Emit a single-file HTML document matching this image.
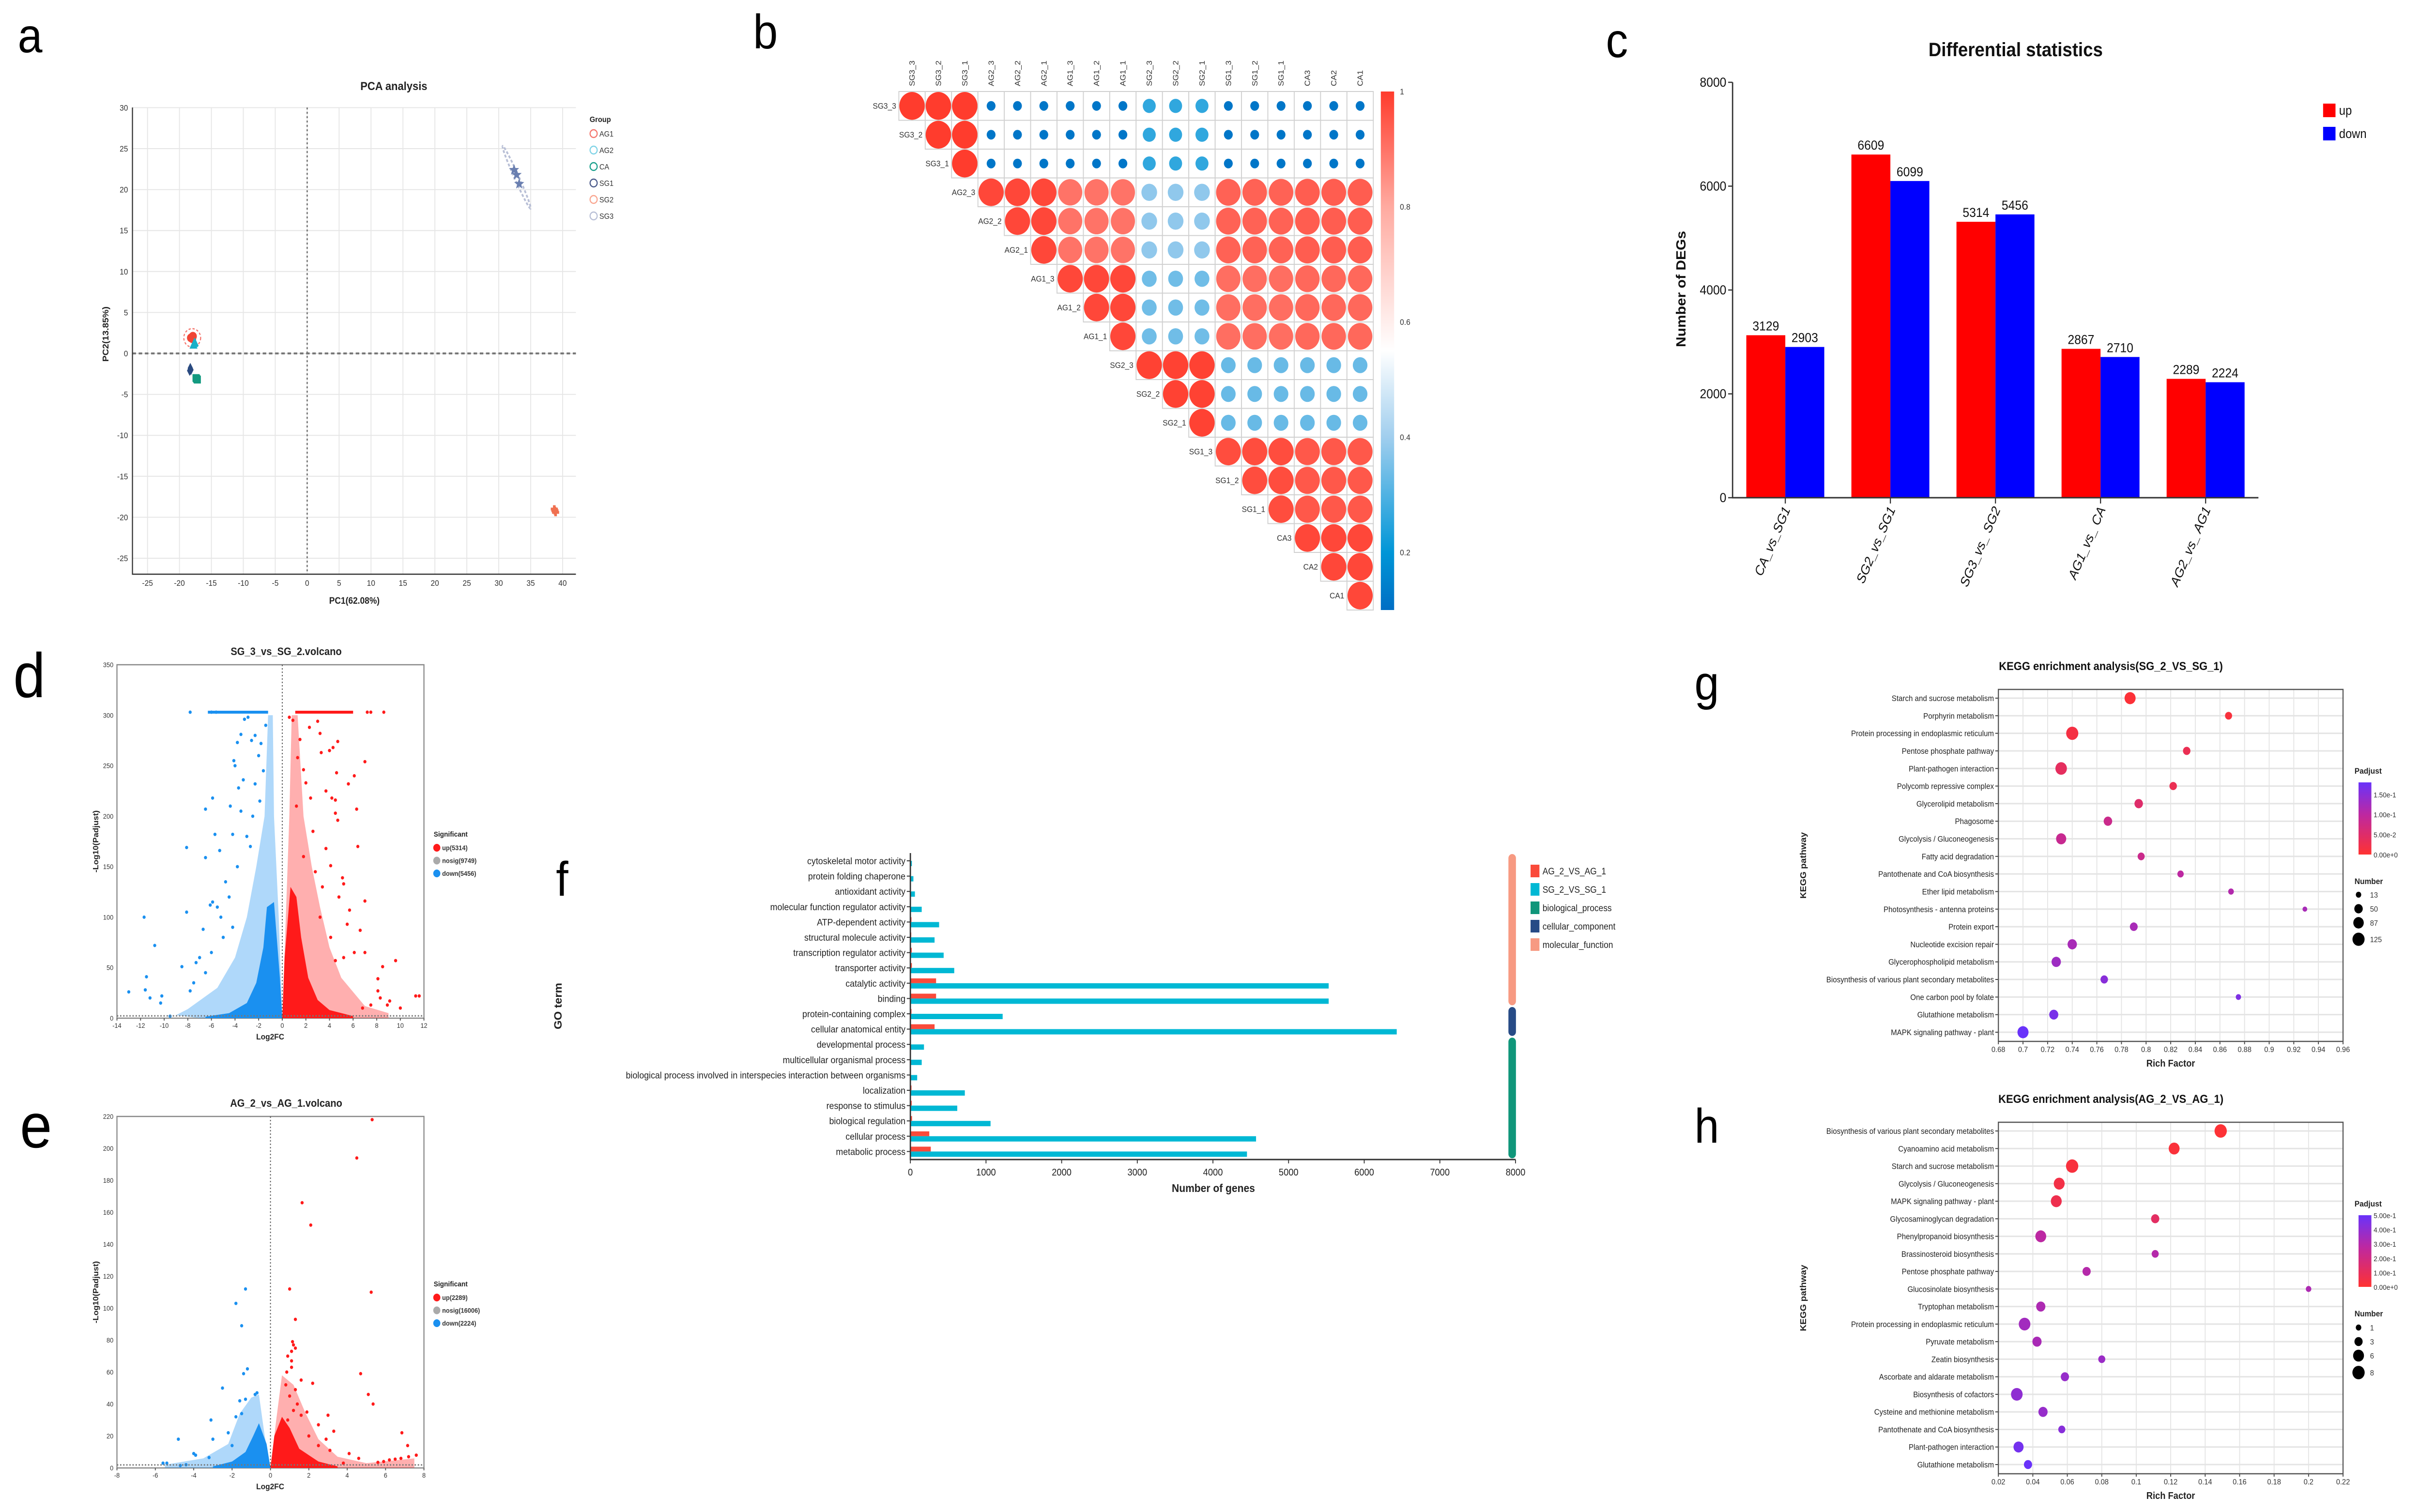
<!DOCTYPE html>
<html><head><meta charset="utf-8"><title>Multi-panel figure</title>
<style>html,body{margin:0;padding:0;background:#fff;overflow:hidden;width:100%;height:100%}svg{display:block;font-family:"Liberation Sans",sans-serif;overflow:hidden;width:100vw;height:100vh}</style>
</head><body>
<svg id="fig" xmlns="http://www.w3.org/2000/svg" viewBox="0 0 5465 3123" preserveAspectRatio="none">
<rect x="0" y="0" width="5465" height="3123" fill="#fff"/>
</svg>
<script>
// ---------- DATA ----------
const pcaGroups=["AG1","AG2","CA","SG1","SG2","SG3"];
const pcaLegendColors=["#f4766e","#7fd3e6","#1aa08c","#4a5a8a","#f9a58f","#b8bfd6"];
const pcaSampleGroup=["AG1","AG1","AG1","AG2","AG2","AG2","CA","CA","CA","SG1","SG1","SG1","SG2","SG2","SG2","SG3","SG3","SG3"];
const pcaX=[-18.2,-17.9,-18.0,-17.8,-17.6,-17.7,-17.4,-17.2,-17.3,-18.3,-18.4,-18.2,38.7,38.9,38.8,32.4,32.8,33.2];
const pcaY=[1.9,2.1,1.8,1.0,1.3,1.2,-3.0,-3.2,-3.1,-1.8,-2.1,-2.0,-19.0,-19.4,-19.2,22.4,21.8,20.7];
const corrLabels=["SG3_3","SG3_2","SG3_1","AG2_3","AG2_2","AG2_1","AG1_3","AG1_2","AG1_1","SG2_3","SG2_2","SG2_1","SG1_3","SG1_2","SG1_1","CA3","CA2","CA1"];
const corrGroupOf=[0,0,0,1,1,1,2,2,2,3,3,3,4,4,4,5,5,5];
const corrGroupMatrix=[
 [1.00,0.12,0.12,0.26,0.12,0.12],
 [0.12,0.98,0.90,0.38,0.93,0.94],
 [0.12,0.90,0.98,0.34,0.91,0.92],
 [0.26,0.38,0.34,0.99,0.33,0.33],
 [0.12,0.93,0.91,0.33,0.97,0.95],
 [0.12,0.94,0.92,0.33,0.95,0.98]];
const corrTicks=[1,0.8,0.6,0.4,0.2];
const degCategories=["CA_vs_SG1","SG2_vs_SG1","SG3_vs_ SG2","AG1_vs_ CA","AG2_vs_ AG1"];
const degUp=[3129,6609,5314,2867,2289];
const degDown=[2903,6099,5456,2710,2224];
const degTicks=[0,2000,4000,6000,8000];
const volDTicksX=[-14,-12,-10,-8,-6,-4,-2,0,2,4,6,8,10,12];
const volDTicksY=[0,50,100,150,200,250,300,350];
const volDDownX=[-11.7,-10.8,-13,-11.5,-11.6,-11.2,-10.2,-10.3,-9.5,-8.1,-8.1,-8.5,-7.8,-6.5,-6.5,-5.9,-5.7,-5.3,-6.7,-6.1,-5.9,-5.5,-4.4,-4.1,-4,-3.8,-3.5,-3.2,-2.9,-2.6,-2.3,-1.8,-1.4,-3.7,-3.3,-2.3,-3.5,-3.0,-4.2,-4.8,-5.2,-7,-7.3,-6.5,-3.8,-2.7,-2.0,-1.6,-4.5,-6,-7.5,-5,-4.2,-2.5,-1.9,-7.8,-6.0,-5.6];
const volDDownY=[100,72,26,41,28,20,22,15,2,105,169,51,27,207,159,218,182,166,88,112,115,110,210,255,250,273,281,296,298,275,280,272,290,228,236,232,205,180,182,135,100,60,55,45,150,170,260,245,120,65,35,80,90,200,215,303,303,303];
const volDUpX=[0.6,0.9,1.5,2.3,3.0,3.2,3.3,4.3,4.7,4.0,7.0,6.1,5.6,4.6,3.7,4.5,4.2,6.3,4.5,4.7,6.4,5.1,5.2,4.1,3.7,7.0,6.6,5.7,5.5,4.8,9.6,8.5,8.1,8.1,8.3,9.1,11.3,11.6,8.9,7.0,6.1,5.2,4.5,4.1,3.4,2.6,2.0,1.8,2.4,1.3,1.2,1.8,3.2,2.8,6.8,7.5,10,7.2,7.5,8.6];
const volDUpY=[298,295,276,288,294,282,263,268,274,265,254,240,232,243,225,216,218,207,203,196,170,139,133,151,168,116,87,107,93,120,57,51,39,27,20,17,22,22,13,65,65,60,57,80,130,185,233,246,218,258,210,160,100,145,10,13,10,303,303,303];
const volDTopDown=[-6.3,-1.2];
const volDTopUp=[1.1,6.0];
const volDCoreDown=[[0,0],[-0.2,40],[-0.7,115],[-1.3,110],[-1.6,70],[-2.2,35],[-3,15],[-4.5,5],[-6.5,1.5],[-6.5,0]];
const volDHaloDown=[[-0.8,300],[-1.2,300],[-1.5,200],[-2.2,150],[-3,100],[-4,60],[-5.5,30],[-8,9],[-9,3],[-7,0],[0,0],[-0.3,100],[-0.7,200]];
const volDCoreUp=[[0,0],[0.2,60],[0.7,130],[1.2,120],[1.6,80],[2.2,40],[3,18],[4,8],[6,2],[6,0]];
const volDHaloUp=[[0.8,300],[1.3,300],[1.8,200],[2.5,150],[3.2,110],[4,70],[5,40],[7,12],[9,5],[9,0],[0,0],[0.3,100],[0.6,200]];
const volDLegend=["up(5314)","nosig(9749)","down(5456)"];
const volETicksX=[-8,-6,-4,-2,0,2,4,6,8];
const volETicksY=[0,20,40,60,80,100,120,140,160,180,200,220];
const volEDownX=[-1.3,-1.8,-1.5,-1.2,-1.4,-2.5,-3.1,-3.0,-4.8,-4.0,-3.9,-3.2,-5.6,-5.4,-1.6,-1.3,-1.8,-1.5,-0.8,-0.7,-2.2,-2,-4.4,-4.7];
const volEDownY=[112,103,89,62,59,50,30,18,18,9,8,6.5,3,3,42,43,32,34,46,47,22,14,2,1.5];
const volEUpX=[5.3,4.5,1.65,2.1,1.0,5.25,1.3,1.15,1.2,1.3,1.1,0.9,1.1,1.1,0.85,4.7,1.6,2.2,0.8,5.1,5.35,3.0,1.9,1.6,2.5,3.3,6.85,2.0,2.9,7.15,2.5,3.1,4.1,7.6,7.2,6.8,6.5,6.2,5.9,5.6,4.6,3.8,1.3,1.0,1.4,1.2,0.9];
const volEUpY=[218,194,166,152,112,110,93,79,77,75,73,70,67,63,60,59,55,53,52,46,40,33,35,33,27,23,22,20,18,14,14,11,9,8,7,6,5.5,5,4,3.5,6,3,49,45,40,36,30];
const volECoreDown=[[0,0],[-0.2,15],[-0.6,28],[-0.9,20],[-1.3,10],[-2,4],[-3,1],[-3,0]];
const volEHaloDown=[[-0.6,46],[-1,44],[-1.6,34],[-2.2,15],[-3.5,6],[-5.5,2],[-5.5,0],[0,0],[-0.3,20]];
const volECoreUp=[[0,0],[0.2,20],[0.6,32],[1.0,25],[1.5,12],[2.5,4],[3.5,1],[3.5,0]];
const volEHaloUp=[[0.6,58],[1.2,52],[1.8,35],[2.5,18],[3.5,7],[5,3],[7.5,6],[7.5,0],[0,0],[0.3,30]];
const volELegend=["up(2289)","nosig(16006)","down(2224)"];
const goTerms=["cytoskeletal motor activity","protein folding chaperone","antioxidant activity","molecular function regulator activity","ATP-dependent activity","structural molecule activity","transcription regulator activity","transporter activity","catalytic activity","binding","protein-containing complex","cellular anatomical entity","developmental process","multicellular organismal process","biological process involved in interspecies interaction between organisms","localization","response to stimulus","biological regulation","cellular process","metabolic process"];
const goAG=[2,3,5,8,15,12,18,20,340,340,15,320,5,5,3,15,18,22,250,270];
const goSG=[20,40,60,150,380,320,440,580,5530,5530,1220,6430,180,150,90,720,620,1060,4570,4450];
const goTicks=[0,1000,2000,3000,4000,5000,6000,7000,8000];
const goLegend=["AG_2_VS_AG_1","SG_2_VS_SG_1","biological_process","cellular_component","molecular_function"];
const goCategorySpans=[[0,9,"#f79a82","molecular_function"],[10,11,"#274b86","cellular_component"],[12,19,"#10967a","biological_process"]];
const keggGPathways=["Starch and sucrose metabolism","Porphyrin metabolism","Protein processing in endoplasmic reticulum","Pentose phosphate pathway","Plant-pathogen interaction","Polycomb repressive complex","Glycerolipid metabolism","Phagosome","Glycolysis / Gluconeogenesis","Fatty acid degradation","Pantothenate and CoA biosynthesis","Ether lipid metabolism","Photosynthesis - antenna proteins","Protein export","Nucleotide excision repair","Glycerophospholipid metabolism","Biosynthesis of various plant secondary metabolites","One carbon pool by folate","Glutathione metabolism","MAPK signaling pathway - plant"];
const keggGRich=[0.787,0.867,0.740,0.833,0.731,0.822,0.794,0.769,0.731,0.796,0.828,0.869,0.929,0.790,0.740,0.727,0.766,0.875,0.725,0.700];
const keggGNumber=[100,30,125,35,110,35,50,50,80,30,22,15,8,40,65,65,35,12,60,100];
const keggGPadj=[0.005,0.01,0.015,0.03,0.04,0.03,0.05,0.08,0.085,0.08,0.10,0.11,0.12,0.12,0.12,0.13,0.15,0.16,0.165,0.18];
const keggGTicks=[0.68,0.7,0.72,0.74,0.76,0.78,0.8,0.82,0.84,0.86,0.88,0.9,0.92,0.94,0.96];
const keggGColorTicks=[[0.15,"1.50e-1"],[0.10,"1.00e-1"],[0.05,"5.00e-2"],[0,"0.00e+0"]];
const keggGSizeTicks=[13,50,87,125];
const keggHPathways=["Biosynthesis of various plant secondary metabolites","Cyanoamino acid metabolism","Starch and sucrose metabolism","Glycolysis / Gluconeogenesis","MAPK signaling pathway - plant","Glycosaminoglycan degradation","Phenylpropanoid biosynthesis","Brassinosteroid biosynthesis","Pentose phosphate pathway","Glucosinolate biosynthesis","Tryptophan metabolism","Protein processing in endoplasmic reticulum","Pyruvate metabolism","Zeatin biosynthesis","Ascorbate and aldarate metabolism","Biosynthesis of cofactors","Cysteine and methionine metabolism","Pantothenate and CoA biosynthesis","Plant-pathogen interaction","Glutathione metabolism"];
const keggHRich=[0.149,0.122,0.0628,0.0553,0.0536,0.111,0.0446,0.111,0.0712,0.200,0.0446,0.0352,0.0424,0.080,0.0586,0.0307,0.0459,0.0568,0.0317,0.0372];
const keggHNumber=[8,6,8,6,6,3,6,2,3,1,4,7,4,2,3,7,4,2,5,3];
const keggHPadj=[0.01,0.02,0.03,0.05,0.07,0.12,0.28,0.30,0.30,0.32,0.32,0.35,0.33,0.37,0.38,0.40,0.38,0.42,0.47,0.50];
const keggHTicks=[0.02,0.04,0.06,0.08,0.1,0.12,0.14,0.16,0.18,0.2,0.22];
const keggHColorTicks=[[0.5,"5.00e-1"],[0.4,"4.00e-1"],[0.3,"3.00e-1"],[0.2,"2.00e-1"],[0.1,"1.00e-1"],[0,"0.00e+0"]];
const keggHSizeTicks=[1,3,6,8];

// ---------- HELPERS ----------
const NS="http://www.w3.org/2000/svg";
const svg=document.getElementById('fig');
function mk(tag,attrs,parent){const e=document.createElementNS(NS,tag);for(const k in attrs)e.setAttribute(k,attrs[k]);(parent||svg).appendChild(e);return e;}
function T(x,y,s,size,extra){const e=mk('text',Object.assign({x:x,y:y,'font-size':size,fill:'#222'},extra||{}));e.textContent=s;return e;}
function lerp(a,b,t){return a+(b-a)*t;}
function ptsStr(arr,fx,fy){return arr.map(p=>fx(p[0]).toFixed(1)+','+fy(p[1]).toFixed(1)).join(' ');}

[["a",40,108,100],["b",1700,100,100],["c",3625,118,100],["d",30,1440,130],["e",45,2370,130],["f",1255,1850,100],["g",3825,1445,100],["h",3825,2360,100]].forEach(l=>{
 const t=T(l[1],l[2],l[0],l[3],{fill:'#000'});
 
 
});

// ---------- PANEL A ----------
(function(){
 const g=mk('g',{});
 
 
 const xA=v=>333+(v+25)*(937/65), yA=v=>730-v*(84.6/5);
 const L=299,R=1300,Tp=222,B=1186;
 for(let v=-25;v<=40;v+=5){const l=mk('line',{x1:xA(v),x2:xA(v),y1:Tp,y2:B,stroke:'#e6e6e6','stroke-width':2},g);
  const t=T(xA(v),B+24,String(v),17,{'text-anchor':'middle',fill:'#333'});g.appendChild(t);}
 for(let v=-25;v<=30;v+=5){const l=mk('line',{x1:L,x2:R,y1:yA(v),y2:yA(v),stroke:'#e6e6e6','stroke-width':2},g);
  const t=T(L-10,yA(v)+6,String(v),17,{'text-anchor':'end',fill:'#333'});g.appendChild(t);}
 let e=mk('line',{x1:xA(0),x2:xA(0),y1:Tp,y2:B,stroke:'#777','stroke-width':3,'stroke-dasharray':'4,5'},g);
 e=mk('line',{x1:L,x2:R,y1:yA(0),y2:yA(0),stroke:'#777','stroke-width':4,'stroke-dasharray':'8,6'},g);
 e=mk('path',{d:`M${L},${Tp} L${L},${B} L${R},${B}`,fill:'none',stroke:'#333','stroke-width':2.5},g);
 e=T(889,186,"PCA analysis",24,{'text-anchor':'middle','font-weight':'bold'});g.appendChild(e);
 e=T(800,1247,"PC1(62.08%)",19,{'text-anchor':'middle','font-weight':'bold'});g.appendChild(e);
 e=T(0,0,"PC2(13.85%)",19,{'text-anchor':'middle','font-weight':'bold',transform:'translate(245,690) rotate(-90)'});g.appendChild(e);
 e=mk('circle',{cx:xA(-18),cy:yA(1.9),r:19,fill:'none',stroke:'#f4766e','stroke-width':2.5,'stroke-dasharray':'5,4'},g);
 e=mk('ellipse',{cx:xA(32.8),cy:yA(21.5),rx:72,ry:5,fill:'none',stroke:'#b8bfd6','stroke-width':4,'stroke-dasharray':'6,4',transform:`rotate(64 ${xA(32.8)} ${yA(21.5)})`},g);
 const fillC={AG1:'#f04535',AG2:'#19b0c8',CA:'#139a80',SG1:'#2a4a80',SG2:'#f07050',SG3:'#6a7fb0'};
 for(let i=0;i<pcaX.length;i++){
  const gr=pcaSampleGroup[i],cx=xA(pcaX[i]),cy=yA(pcaY[i]),c=fillC[gr];let m;
  if(gr==='AG1')m=mk('circle',{cx:cx,cy:cy,r:9,fill:c},g);
  else if(gr==='AG2')m=mk('polygon',{points:`${cx},${cy-11} ${cx-9},${cy+7} ${cx+9},${cy+7}`,fill:c},g);
  else if(gr==='CA')m=mk('rect',{x:cx-8,y:cy-8,width:16,height:16,fill:c},g);
  else if(gr==='SG1')m=mk('polygon',{points:`${cx},${cy-11} ${cx-6},${cy} ${cx},${cy+11} ${cx+6},${cy}`,fill:c},g);
  else if(gr==='SG2')m=mk('path',{d:`M${cx-3},${cy-8}h6v5h5v6h-5v5h-6v-5h-5v-6h5z`,fill:c},g);
  else{let p=[];for(let k=0;k<10;k++){const a=-Math.PI/2+k*Math.PI/5,r=k%2?5:12;p.push((cx+r*Math.cos(a)).toFixed(1)+','+(cy+r*Math.sin(a)).toFixed(1));}m=mk('polygon',{points:p.join(' '),fill:c},g);}
  
  
 }
 e=T(1331,252,"Group",16,{'font-weight':'bold'});g.appendChild(e);
 pcaGroups.forEach((gr,i)=>{const y=276+i*34;
  const c=mk('circle',{cx:1340,cy:y,r:8,fill:'#fff',stroke:pcaLegendColors[i],'stroke-width':2.5},g);
  const t=T(1353,y+6,gr,16,{fill:'#333'});g.appendChild(t);});
})();

// ---------- PANEL B ----------
(function(){
 const g=mk('g',{});
 
 
 const L=2029,Tp=189,cw=59.5,n=corrLabels.length;
 const stops=[[0.1,[0,110,196]],[0.2,[0,150,215]],[0.4,[160,206,238]],[0.55,[255,255,255]],[0.8,[255,170,160]],[1,[255,60,45]]];
 function col(v){for(let i=1;i<stops.length;i++){if(v<=stops[i][0]){const a=stops[i-1],b=stops[i],t=(v-a[0])/(b[0]-a[0]);return `rgb(${a[1].map((c,k)=>Math.round(lerp(c,b[1][k],t))).join(',')})`;}}return 'rgb(255,60,45)';}
 for(let i=0;i<n;i++){
  for(let j=i;j<n;j++){
   const x=L+j*cw,y=Tp+i*cw;
   const r=mk('rect',{x:x,y:y,width:cw,height:cw,fill:'#fff',stroke:'#d0d0d0','stroke-width':2},g);
   const v=corrGroupMatrix[corrGroupOf[i]][corrGroupOf[j]];
   const c=mk('circle',{cx:x+cw/2,cy:y+cw/2,r:(cw/2-1)*Math.sqrt(v),fill:col(v)},g);
  }
  const rl=T(L+i*cw-6,Tp+i*cw+cw/2+6,corrLabels[i],17,{'text-anchor':'end',fill:'#333'});g.appendChild(rl);
  const cl=T(0,0,corrLabels[i],17,{fill:'#333',transform:`translate(${L+i*cw+cw/2+6},178) rotate(-90)`});g.appendChild(cl);
 }
 const defs=mk('defs',{},g);
 const lg=mk('linearGradient',{id:'corrgrad',x1:0,y1:1,x2:0,y2:0},defs);
 stops.forEach(s=>{mk('stop',{offset:((s[0]-0.1)/0.9).toFixed(3),'stop-color':`rgb(${s[1].join(',')})`},lg);});
 const cb=mk('rect',{x:3117,y:189,width:30,height:1071,fill:'url(#corrgrad)'},g);
 corrTicks.forEach(v=>{const y=1260-(v-0.1)/0.9*1071;
  const t=T(3160,y+6,String(v),17,{fill:'#333'});g.appendChild(t);});
})();

// ---------- PANEL C ----------
(function(){
 const g=mk('g',{});
 
 
 const yC=v=>1028-v*(858/8000), L=3911,R=5098, bw=88;
 const centers=degCategories.map((_,i)=>4030+i*237.2);
 let e=T(4550,116,"Differential statistics",40,{'text-anchor':'middle','font-weight':'bold',fill:'#111'});g.appendChild(e);
 degCategories.forEach((c,i)=>{
  const cx=centers[i];
  let b=mk('rect',{x:cx-bw,y:yC(degUp[i]),width:bw,height:yC(0)-yC(degUp[i]),fill:'#ff0000'},g);
  b=mk('rect',{x:cx,y:yC(degDown[i]),width:bw,height:yC(0)-yC(degDown[i]),fill:'#0000ff'},g);
  let t=T(cx-bw/2,yC(degUp[i])-10,String(degUp[i]),27,{'text-anchor':'middle',fill:'#111'});g.appendChild(t);
  t=T(cx+bw/2,yC(degDown[i])-10,String(degDown[i]),27,{'text-anchor':'middle',fill:'#111'});g.appendChild(t);
  const tk=mk('line',{x1:cx,x2:cx,y1:1028,y2:1040,stroke:'#333','stroke-width':2.5},g);
  t=T(0,0,c,28,{'text-anchor':'end','font-style':'italic',fill:'#111',transform:`translate(${cx+12},1052) rotate(-65)`});g.appendChild(t);
 });
 degTicks.forEach(v=>{const tk=mk('line',{x1:L-10,x2:L,y1:yC(v),y2:yC(v),stroke:'#333','stroke-width':2.5},g);
  const t=T(L-14,yC(v)+9,String(v),27,{'text-anchor':'end',fill:'#111'});g.appendChild(t);});
 e=mk('path',{d:`M${L},170 L${L},1028 L${R},1028`,fill:'none',stroke:'#333','stroke-width':3},g);
 e=T(0,0,"Number of DEGs",30,{'text-anchor':'middle','font-weight':'bold',fill:'#111',transform:'translate(3805,597) rotate(-90)'});g.appendChild(e);
 [["up","#ff0000",214],["down","#0000ff",262]].forEach(l=>{
  const r=mk('rect',{x:5244,y:l[2],width:28,height:28,fill:l[1]},g);
  const t=T(5280,l[2]+23,l[0],26,{fill:'#111'});g.appendChild(t);});
})();

// ---------- VOLCANO ----------
function volcano(o){
 const g=mk('g',{});
 
 
 const L=264,R=957,xv=v=>L+(v-o.xmin)/(o.xmax-o.xmin)*(R-L),yv=v=>o.bottom-v/o.ymax*(o.bottom-o.top);
 let e=mk('rect',{x:L,y:o.top,width:R-L,height:o.bottom-o.top,fill:'#fff',stroke:'#888','stroke-width':2.5},g);
 [[o.haloDown,'#1a90f0',0.35],[o.haloUp,'#ff1a1a',0.35],[o.coreDown,'#1a90f0',1],[o.coreUp,'#ff1a1a',1]].forEach((h,k)=>{
  const p=mk('polygon',{points:ptsStr(h[0],xv,yv),fill:h[1],'fill-opacity':h[2]},g);});
 o.downX.forEach((x,i)=>{const c=mk('circle',{cx:xv(x),cy:yv(o.downY[i]),r:3.5,fill:'#1a90f0'},g);});
 o.upX.forEach((x,i)=>{const c=mk('circle',{cx:xv(x),cy:yv(o.upY[i]),r:3.5,fill:'#ff1a1a'},g);});
 if(o.topDown){e=mk('line',{x1:xv(o.topDown[0]),x2:xv(o.topDown[1]),y1:yv(303),y2:yv(303),stroke:'#1a90f0','stroke-width':6},g);
  e=mk('line',{x1:xv(o.topUp[0]),x2:xv(o.topUp[1]),y1:yv(303),y2:yv(303),stroke:'#ff1a1a','stroke-width':6},g);}
 e=mk('line',{x1:xv(0),x2:xv(0),y1:o.top,y2:o.bottom,stroke:'#555','stroke-width':2,'stroke-dasharray':'3,4'},g);
 e=mk('line',{x1:L,x2:R,y1:yv(1.3)-2,y2:yv(1.3)-2,stroke:'#777','stroke-width':3,'stroke-dasharray':'3,4'},g);
 o.ticksX.forEach(v=>{const t=T(xv(v),o.bottom+20,String(v),14,{'text-anchor':'middle',fill:'#333'});g.appendChild(t);
  const tk=mk('line',{x1:xv(v),x2:xv(v),y1:o.bottom,y2:o.bottom+5,stroke:'#555','stroke-width':2},g);});
 o.ticksY.forEach(v=>{const t=T(L-8,yv(v)+5,String(v),14,{'text-anchor':'end',fill:'#333'});g.appendChild(t);});
 e=T(646,o.top-20,o.title,22,{'text-anchor':'middle','font-weight':'bold'});g.appendChild(e);
 e=T(610,o.bottom+44,"Log2FC",17,{'text-anchor':'middle','font-weight':'bold'});g.appendChild(e);
 e=T(0,0,"-Log10(Padjust)",17,{'text-anchor':'middle','font-weight':'bold',transform:`translate(222,${(o.top+o.bottom)/2}) rotate(-90)`});g.appendChild(e);
 e=T(979,o.legY,"Significant",15,{'font-weight':'bold'});g.appendChild(e);
 ['#ff1a1a','#aaaaaa','#1a90f0'].forEach((c,i)=>{const y=o.legY+23+i*26.5;
  const m=mk('circle',{cx:986,cy:y,r:8,fill:c},g);
  const t=T(998,y+5,o.legend[i],14,{'font-weight':'bold',fill:'#333'});g.appendChild(t);});
}
volcano({name:'volcano-sg3-vs-sg2',title:'SG_3_vs_SG_2.volcano',xmin:-14,xmax:12,ymax:350,top:1373,bottom:2103,ticksX:volDTicksX,ticksY:volDTicksY,downX:volDDownX,downY:volDDownY,upX:volDUpX,upY:volDUpY,coreDown:volDCoreDown,haloDown:volDHaloDown,coreUp:volDCoreUp,haloUp:volDHaloUp,topDown:volDTopDown,topUp:volDTopUp,legend:volDLegend,legY:1728});
volcano({name:'volcano-ag2-vs-ag1',title:'AG_2_vs_AG_1.volcano',xmin:-8,xmax:8,ymax:220,top:2306,bottom:3032,ticksX:volETicksX,ticksY:volETicksY,downX:volEDownX,downY:volEDownY,upX:volEUpX,upY:volEUpY,coreDown:volECoreDown,haloDown:volEHaloDown,coreUp:volECoreUp,haloUp:volEHaloUp,legend:volELegend,legY:2657});

// ---------- PANEL F ----------
(function(){
 const g=mk('g',{});
 
 
 const xF=v=>2055+v*0.17075, yr=i=>1778+i*31.6;
 goTerms.forEach((t,i)=>{
  const y=yr(i);
  let b=mk('rect',{x:2055,y:y-10,width:xF(goAG[i])-2055,height:10,fill:'#fa4a3a'},g);
  b=mk('rect',{x:2055,y:y,width:xF(goSG[i])-2055,height:11,fill:'#00b8d4'},g);
  const tk=mk('line',{x1:2047,x2:2055,y1:y,y2:y,stroke:'#333','stroke-width':2},g);
  const l=T(2044,y+7,t,19.5,{'text-anchor':'end',fill:'#222'});g.appendChild(l);
 });
 let e=mk('path',{d:`M2055,1762 L2055,2395 L3421,2395`,fill:'none',stroke:'#333','stroke-width':3},g);
 goTicks.forEach(v=>{const tk=mk('line',{x1:xF(v),x2:xF(v),y1:2395,y2:2403,stroke:'#333','stroke-width':2},g);
  const t=T(xF(v),2428,String(v),20,{'text-anchor':'middle',fill:'#222'});g.appendChild(t);});
 e=T(2739,2462,"Number of genes",23,{'text-anchor':'middle','font-weight':'bold'});g.appendChild(e);
 e=T(0,0,"GO term",24,{'text-anchor':'middle','font-weight':'bold',transform:'translate(1268,2078) rotate(-90)'});g.appendChild(e);
 goCategorySpans.forEach(s=>{const y1=yr(s[0])-14,y2=yr(s[1])+14;
  const r=mk('rect',{x:3405,y:y1,width:17,height:y2-y1,rx:8.5,fill:s[2]},g);});
 const lc=['#fa4a3a','#00b8d4','#10967a','#274b86','#f79a82'];
 goLegend.forEach((l,i)=>{const y=1798+i*38;
  const r=mk('rect',{x:3455,y:y-12,width:20,height:26,fill:lc[i]},g);
  const t=T(3482,y+8,l,19,{fill:'#222'});g.appendChild(t);});
})();

// ---------- KEGG ----------
function keggColor(t){t=Math.max(0,Math.min(1,t));const a=[255,50,50],m=[190,40,160],b=[105,50,250];let c;
 if(t<0.55){const u=t/0.55;c=a.map((v,k)=>Math.round(lerp(v,m[k],u)));}else{const u=(t-0.55)/0.45;c=m.map((v,k)=>Math.round(lerp(v,b[k],u)));}return `rgb(${c.join(',')})`;}
function kegg(o){
 const g=mk('g',{});
 
 
 const L=4511,R=5289,n=o.paths.length,xv=v=>L+(v-o.xmin)/(o.xmax-o.xmin)*(R-L),yr=i=>o.row0+i*(o.rowN-o.row0)/(n-1);
 o.ticks.forEach(v=>{const l=mk('line',{x1:xv(v),x2:xv(v),y1:o.top,y2:o.bottom,stroke:'#e4e4e4','stroke-width':2},g);
  const t=T(xv(v),o.bottom+22,String(v),16,{'text-anchor':'middle',fill:'#333'});g.appendChild(t);
  const tk=mk('line',{x1:xv(v),x2:xv(v),y1:o.bottom,y2:o.bottom+6,stroke:'#444','stroke-width':2},g);});
 o.paths.forEach((p,i)=>{const y=yr(i);
  const l=mk('line',{x1:L,x2:R,y1:y,y2:y,stroke:'#e4e4e4','stroke-width':3},g);
  const tk=mk('line',{x1:L-7,x2:L,y1:y,y2:y,stroke:'#444','stroke-width':2},g);
  const t=T(L-10,y+6,p,16.5,{'text-anchor':'end',fill:'#222'});g.appendChild(t);});
 let e=mk('rect',{x:L,y:o.top,width:R-L,height:o.bottom-o.top,fill:'none',stroke:'#555','stroke-width':2.5},g);
 o.paths.forEach((p,i)=>{const c=mk('circle',{cx:xv(o.rich[i]),cy:yr(i),r:o.rf(o.num[i]),fill:keggColor(o.padj[i]/o.pmax)},g);});
 e=T(4765,o.top-40,o.title,24,{'text-anchor':'middle','font-weight':'bold',fill:'#111'});g.appendChild(e);
 e=T(4900,o.bottom+52,"Rich Factor",20,{'text-anchor':'middle','font-weight':'bold'});g.appendChild(e);
 e=T(0,0,"KEGG pathway",19,{'text-anchor':'middle','font-weight':'bold',transform:`translate(4077,${(o.top+o.bottom)/2}) rotate(-90)`});g.appendChild(e);
 const gid='kg'+o.name;const defs=mk('defs',{},g);const lg=mk('linearGradient',{id:gid,x1:0,y1:1,x2:0,y2:0},defs);
 [0,0.25,0.55,0.8,1].forEach(s=>mk('stop',{offset:s,'stop-color':keggColor(s)},lg));
 e=T(5315,o.cbTop-18,"Padjust",17,{'font-weight':'bold'});g.appendChild(e);
 e=mk('rect',{x:5324,y:o.cbTop,width:29,height:o.cbBot-o.cbTop,fill:`url(#${gid})`},g);
 o.cticks.forEach(ct=>{const y=o.cbBot-ct[0]/o.pmax*(o.cbBot-o.cbTop);
  const t=T(5358,y+6,ct[1],15,{fill:'#333'});g.appendChild(t);});
 e=T(5315,o.numTitle,"Number",17,{'font-weight':'bold'});g.appendChild(e);
 o.sticks.forEach((s,i)=>{const y=o.sizeY[i];
  const c=mk('circle',{cx:5324,cy:y,r:o.rf(s),fill:'#000'},g);
  const t=T(5350,y+6,String(s),16,{fill:'#333'});g.appendChild(t);});
}
kegg({name:'kegg-sg2-vs-sg1',title:'KEGG enrichment analysis(SG_2_VS_SG_1)',paths:keggGPathways,rich:keggGRich,num:keggGNumber,padj:keggGPadj,pmax:0.18,ticks:keggGTicks,xmin:0.68,xmax:0.96,top:1424,bottom:2151,row0:1442,rowN:2132,rf:n=>2.5+Math.sqrt(n)*1.0,cbTop:1616,cbBot:1765,cticks:keggGColorTicks,numTitle:1826,sticks:keggGSizeTicks,sizeY:[1848,1877,1906,1940]});
kegg({name:'kegg-ag2-vs-ag1',title:'KEGG enrichment analysis(AG_2_VS_AG_1)',paths:keggHPathways,rich:keggHRich,num:keggHNumber,padj:keggHPadj,pmax:0.5,ticks:keggHTicks,xmin:0.02,xmax:0.22,top:2318,bottom:3044,row0:2336,rowN:3025,rf:n=>2+Math.sqrt(n)*4.2,cbTop:2510,cbBot:2658,cticks:keggHColorTicks,numTitle:2719,sticks:keggHSizeTicks,sizeY:[2742,2771,2800,2835]});
</script>
</body></html>
